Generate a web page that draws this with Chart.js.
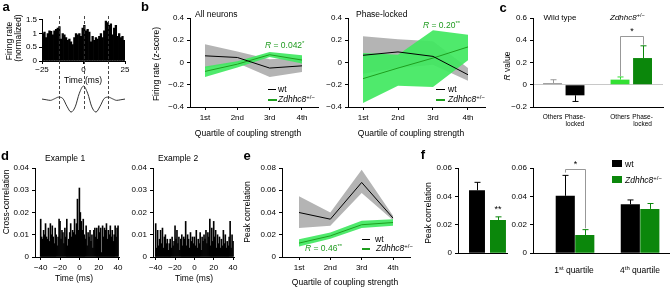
<!DOCTYPE html>
<html>
<head>
<meta charset="utf-8">
<script src="https://cdn.jsdelivr.net/npm/chart.js@4.4.0/dist/chart.umd.min.js"></script>
<style>
  html, body { margin: 0; padding: 0; background: #fff; overflow: hidden; }
  #fig { position: relative; width: 670px; height: 287px; font-family: "Liberation Sans", Arial, sans-serif; color: #000; }
  #fig canvas { position: absolute; }
  .t { position: absolute; white-space: nowrap; font-size: 8.5px; line-height: 1; }
  .c { transform: translate(-50%, -50%); }
  .l { transform: translate(0, -50%); }
  .v { transform: translate(-50%, -50%) rotate(-90deg); }
  .lt { font-weight: bold; font-size: 13px; }
  .sm { font-size: 8px; }
  .g { color: #1e9a1e; }
  sup { font-size: 0.7em; vertical-align: 0; position: relative; top: -0.45em; }
  .sw { position: absolute; }
</style>
</head>
<body>
<div id="fig"></div>
<script>
// ---- data ----
// a: spike histogram around the theta cycle (1 ms bins, -25..25 ms)
const firingRate = [
  1.0, 1.05, 0.85, 1.0, 1.1, 1.08, 0.95, 1.1, 1.15, 1.2,
  1.25, 0.8, 1.0, 0.95, 0.85, 0.75, 0.8, 0.7, 0.6, 0.85,
  1.0, 0.95, 1.0, 0.9, 1.2, 1.3, 1.1, 1.15, 1.05, 0.7,
  0.9, 0.75, 0.85, 0.8, 0.9, 1.0, 0.85, 1.1, 1.45, 1.4,
  1.3, 1.35, 0.95, 1.2, 1.3, 0.9, 1.0, 0.85, 0.9, 0.75
];
const firingBinStart = -25;
const waveTime = [-25, -22.5, -20, -17.5, -15, -12.5, -10, -7.5, -5, -2.5, 0, 2.5, 5, 7.5, 10, 12.5, 15, 17.5, 20, 22.5, 25];
const waveValue = [0, -0.05, -0.1, 0.02, 0.15, 0.05, -0.55, -1.0, -0.6, 0.45, 1.0, 0.45, -0.6, -1.0, -0.55, 0.05, 0.15, 0.02, -0.1, -0.05, 0];
const cycleMarks = [-15, 0, 15];
const timeTicksA = [-25, 0, 25];
const rateTicks = [0, 0.5, 1, 1.5];

// b: firing rate by quartile of coupling strength
const quartiles = ['1st', '2nd', '3rd', '4th'];
const allWt = [0.06, 0.045, -0.05, -0.03];
const allWtHi = [0.165, 0.1, 0.03, 0.045];
const allWtLo = [-0.05, -0.005, -0.13, -0.085];
const allMut = [-0.08, -0.015, 0.07, 0.022];
const allMutHi = [-0.035, 0.012, 0.095, 0.065];
const allMutLo = [-0.13, -0.045, 0.05, -0.01];
const lockWt = [0.065, 0.095, 0.055, -0.11];
const lockWtHi = [0.235, 0.21, 0.19, -0.05];
const lockWtLo = [-0.1, -0.05, -0.02, -0.165];
const lockMut = [-0.145, -0.05, 0.04, 0.14];
const lockMutHi = [0.085, 0.07, 0.29, 0.25];
const lockMutLo = [-0.365, -0.21, -0.22, 0.02];
const zTicks = [-0.4, -0.2, 0, 0.2, 0.4];

// c: R values
const rGroups = ['Wild type', 'Zdhhc8'];
const rValues = [0.015, -0.095, 0.046, 0.24];
const rErrors = [0.03, 0.055, 0.024, 0.11];
const rTickLabels = ['Others', ['Phase-', 'locked'], 'Others', ['Phase-', 'locked']];
const rTicks = [-0.2, 0, 0.2, 0.4, 0.6];

// d: cross-correlation examples (1 ms bins, -40..40 ms)
const crossLagStart = -40;
const crossEx1 = [
  0.017, 0.009, 0.008, 0.012, 0.010, 0.015, 0.009, 0.008, 0.013, 0.007,
  0.015, 0.010, 0.014, 0.009, 0.006, 0.013, 0.010, 0.005, 0.009, 0.017,
  0.016, 0.008, 0.012, 0.011, 0.006, 0.013, 0.009, 0.017, 0.005, 0.008,
  0.011, 0.015, 0.009, 0.012, 0.011, 0.017, 0.010, 0.015, 0.026, 0.012,
  0.031,
  0.020, 0.016, 0.012, 0.017, 0.010, 0.008, 0.014, 0.005, 0.011, 0.009,
  0.012, 0.007, 0.010, 0.004, 0.012, 0.013, 0.009, 0.013, 0.008, 0.014,
  0.011, 0.013, 0.002, 0.014, 0.009, 0.013, 0.012, 0.015, 0.008, 0.012,
  0.010, 0.014, 0.009, 0.012, 0.007, 0.010, 0.014, 0.009, 0.013, 0.014
];
const crossEx2 = [
  0.015, 0.004, 0.012, 0.005, 0.008, 0.012, 0.006, 0.013, 0.004, 0.009,
  0.010, 0.006, 0.008, 0.003, 0.006, 0.008, 0.004, 0.009, 0.005, 0.007,
  0.014, 0.008, 0.012, 0.006, 0.009, 0.003, 0.008, 0.010, 0.005, 0.009,
  0.008, 0.016, 0.005, 0.010, 0.008, 0.004, 0.011, 0.007, 0.009, 0.006,
  0.009,
  0.005, 0.012, 0.004, 0.008, 0.006, 0.011, 0.003, 0.009, 0.007, 0.010,
  0.008, 0.012, 0.006, 0.011, 0.009, 0.017, 0.005, 0.013, 0.007, 0.016,
  0.009, 0.012, 0.004, 0.010, 0.006, 0.009, 0.004, 0.008, 0.005, 0.012,
  0.006, 0.010, 0.004, 0.007, 0.005, 0.009, 0.016, 0.004, 0.010, 0.007
];
const lagTicks = [-40, -20, 0, 20, 40];
const crossTicks = [0, 0.01, 0.02, 0.03, 0.04];

// e: peak correlation by quartile
const peakWt = [0.040, 0.034, 0.067, 0.035];
const peakWtHi = [0.0545, 0.040, 0.0785, 0.037];
const peakWtLo = [0.026, 0.028, 0.0575, 0.033];
const peakMut = [0.0125, 0.019, 0.029, 0.031];
const peakMutHi = [0.016, 0.022, 0.0325, 0.034];
const peakMutLo = [0.0095, 0.0165, 0.026, 0.028];
const peakTicksE = [0, 0.02, 0.04, 0.06, 0.08];

// f: peak correlation bars
const meanPeak = [0.0443, 0.0234];
const meanPeakErr = [0.0056, 0.0022];
const quartileGroups = ['1st quartile', '4th quartile'];
const qPeakWt = [0.0404, 0.0344];
const qPeakWtErr = [0.0144, 0.0031];
const qPeakMut = [0.0128, 0.0312];
const qPeakMutErr = [0.0038, 0.0038];
const peakTicksF = [0, 0.02, 0.04, 0.06];

// ---- style ----
const GREEN_LINE = '#1e9e1e';
const GREEN_BAND = 'rgba(64,232,96,0.92)';
const GRAY_BAND = '#b4b4b4';
const BAR_GREEN = '#0b870b';
const rColors = ['#9a9a9a', '#000000', '#33e033', BAR_GREEN];

Chart.defaults.font.family = '"Liberation Sans", Arial, sans-serif';
Chart.defaults.font.size = 8;
Chart.defaults.color = '#000';
Chart.defaults.plugins.legend.display = false;
Chart.defaults.plugins.tooltip.enabled = false;

const fig = document.getElementById('fig');
const fmt = (v) => String(v).replace('-', '\u2212');
const pts = (xs, ys) => ys.map((y, i) => ({ x: xs[i], y }));
const bins = (start, vals, shift) => vals.map((v, i) => ({ x: start + i + shift, y: v }));
const qPos = quartiles.map((q, i) => i + 1);

function axis(min, max, ticks, o = {}) {
  return {
    type: 'linear', min, max, offset: false,
    afterBuildTicks: (s) => { s.ticks = ticks.map((v) => ({ value: v })); },
    grid: {
      display: true, drawOnChartArea: !!o.gridColor, drawTicks: o.drawTicks !== false,
      tickLength: 3, tickColor: '#000', color: o.gridColor || '#000', offset: false,
    },
    border: { display: true, color: '#000', width: 1 },
    ticks: {
      display: o.labels !== false, padding: o.pad ?? 2, maxRotation: 0, autoSkip: false,
      color: '#000', font: { size: o.size || 8 }, callback: o.fmt || ((v) => fmt(v)),
    },
  };
}

function mk(area, m, config) {
  const [x0, y0, x1, y1] = area;
  const cv = document.createElement('canvas');
  const w = x1 - x0 + m[0] + m[2], h = y1 - y0 + m[1] + m[3];
  cv.width = w; cv.height = h;
  cv.style.left = (x0 - m[0]) + 'px'; cv.style.top = (y0 - m[1]) + 'px';
  cv.style.width = w + 'px'; cv.style.height = h + 'px';
  fig.appendChild(cv);
  const o = config.options;
  o.responsive = false; o.animation = false; o.devicePixelRatio = 1;
  const hidden = o.scales.x.display === false;
  o.layout = { padding: hidden ? { left: m[0], top: m[1], right: m[2], bottom: m[3] } : { left: 0, top: m[1], right: m[2], bottom: 0 } };
  if (!hidden) {
    o.scales.y.afterFit = (s) => { s.width = m[0]; };
    o.scales.x.afterFit = (s) => { s.height = m[3]; };
  }
  return new Chart(cv, config);
}

const errorBars = {
  id: 'errorBars',
  afterDatasetsDraw(chart) {
    const { ctx } = chart, ys = chart.scales.y;
    chart.data.datasets.forEach((ds, i) => {
      if (!ds.errors) return;
      chart.getDatasetMeta(i).data.forEach((bar, j) => {
        const v = ds.data[j].y;
        const end = ys.getPixelForValue(v + Math.sign(v) * ds.errors[j]);
        const x = Math.round(bar.x) + 0.5;
        ctx.save();
        ctx.strokeStyle = Array.isArray(ds.backgroundColor) ? ds.backgroundColor[j] : ds.backgroundColor;
        ctx.lineWidth = 1;
        ctx.beginPath();
        ctx.moveTo(x, bar.y); ctx.lineTo(x, end);
        ctx.moveTo(x - 3, end); ctx.lineTo(x + 3, end);
        ctx.stroke();
        ctx.restore();
      });
    });
  },
};

const notes = {
  id: 'notes',
  afterDatasetsDraw(chart, args, opts) {
    const { ctx } = chart, xs = chart.scales.x, ys = chart.scales.y;
    ctx.save();
    ctx.font = '9px "Liberation Sans", Arial, sans-serif';
    ctx.textAlign = 'center';
    ctx.textBaseline = 'middle';
    (opts.brackets || []).forEach((b) => {
      const X1 = Math.round(xs.getPixelForValue(b.x1)) + 0.5, X2 = Math.round(xs.getPixelForValue(b.x2)) + 0.5;
      const Y = Math.round(ys.getPixelForValue(b.y)) + 0.5;
      ctx.strokeStyle = '#8c8c8c'; ctx.lineWidth = 0.9;
      ctx.beginPath();
      ctx.moveTo(X1, ys.getPixelForValue(b.y1)); ctx.lineTo(X1, Y); ctx.lineTo(X2, Y); ctx.lineTo(X2, ys.getPixelForValue(b.y2));
      ctx.stroke();
      ctx.fillStyle = '#000';
      ctx.fillText(b.text, (X1 + X2) / 2, Y - 5);
    });
    (opts.labels || []).forEach((l) => {
      ctx.fillStyle = '#000';
      ctx.fillText(l.text, xs.getPixelForValue(l.x), ys.getPixelForValue(l.y));
    });
    ctx.restore();
  },
};

const cycles = {
  id: 'cycles',
  afterDatasetsDraw(chart, args, opts) {
    const { ctx, chartArea } = chart, xs = chart.scales.x;
    ctx.save();
    ctx.strokeStyle = '#333'; ctx.lineWidth = 0.9; ctx.setLineDash([3, 2]);
    opts.at.forEach((t) => {
      const x = Math.round(xs.getPixelForValue(t)) + 0.5;
      ctx.beginPath(); ctx.moveTo(x, chartArea.top); ctx.lineTo(x, chartArea.bottom - 3); ctx.stroke();
    });
    ctx.restore();
  },
};

function line(data, color, width) {
  return { data, borderColor: color, borderWidth: width, pointRadius: 0, fill: false, tension: 0 };
}
function band(hi, lo, color) {
  return [
    { data: hi, borderWidth: 0, pointRadius: 0, backgroundColor: color, fill: '+1', tension: 0 },
    { data: lo, borderWidth: 0, pointRadius: 0, fill: false, tension: 0 },
  ];
}
const qFmt = (v) => quartiles[Math.round(v) - 1];

// ---- a ----
mk([42, 19, 125, 61], [34, 6, 12, 16], {
  type: 'bar',
  data: { datasets: [{ data: bins(firingBinStart, firingRate, 0.5), backgroundColor: '#000', borderWidth: 0, barPercentage: 1, categoryPercentage: 1 }] },
  options: { scales: { x: axis(-25, 25, timeTicksA, { pad: 1 }), y: axis(0, 1.5, rateTicks) } },
});
mk([42, 16, 125, 114], [0, 0, 0, 0], {
  type: 'line',
  data: { datasets: [{ data: pts(waveTime, waveValue), borderColor: '#333', borderWidth: 1, pointRadius: 0, cubicInterpolationMode: 'monotone' }] },
  options: {
    scales: { x: { type: 'linear', display: false, min: -25, max: 25 }, y: { type: 'linear', display: false, min: -1.15, max: 6.4 } },
    plugins: { cycles: { at: cycleMarks } },
  },
  plugins: [cycles],
});

// ---- b ----
function quartileChart(area, m, xr, wt, wtHi, wtLo, mut, mutHi, mutLo, yr, yTicks) {
  return mk(area, m, {
    type: 'line',
    data: {
      datasets: [
        line(pts(qPos, wt), '#000', 1),
        line(pts(qPos, mut), GREEN_LINE, 1),
        ...band(pts(qPos, mutHi), pts(qPos, mutLo), GREEN_BAND),
        ...band(pts(qPos, wtHi), pts(qPos, wtLo), GRAY_BAND),
      ],
    },
    options: {
      scales: {
        x: axis(xr[0], xr[1], qPos, { fmt: qFmt, pad: 3 }),
        y: axis(yr[0], yr[1], yTicks, { pad: 3 }),
      },
    },
  });
}
quartileChart([190, 18, 318, 107], [36, 8, 10, 18], [0.536, 4.495], allWt, allWtHi, allWtLo, allMut, allMutHi, allMutLo, [-0.4, 0.4], zTicks);
quartileChart([348, 18, 485, 107], [30, 8, 10, 18], [0.571, 4.486], lockWt, lockWtHi, lockWtLo, lockMut, lockMutHi, lockMutLo, [-0.4, 0.4], zTicks);

// ---- c ----
const rPos = rValues.map((v, i) => Math.floor(i / 2) * 3 + (i % 2) + 1);
mk([533, 18, 663, 107], [30, 8, 6, 24], {
  type: 'bar',
  data: { datasets: [{ data: pts(rPos, rValues), errors: rErrors, backgroundColor: rColors, borderWidth: 0, barPercentage: 0.84, categoryPercentage: 1 }] },
  options: {
    scales: {
      x: axis(0.133, 5.91, rPos, { drawTicks: false, pad: 6, size: 6.5, fmt: (v, i) => rTickLabels[i] }),
      y: axis(-0.2, 0.6, rTicks, { pad: 3, gridColor: (c) => (c.tick && c.tick.value === 0 ? '#c8c8c8' : 'rgba(0,0,0,0)') }),
    },
    plugins: { notes: { brackets: [{ x1: rPos[2], x2: rPos[3], y: 0.44, y1: 0.075, y2: 0.36, text: '*' }] } },
  },
  plugins: [errorBars, notes],
});

// ---- d ----
function crossChart(area, m, xr, vals) {
  return mk(area, m, {
    type: 'bar',
    data: { datasets: [{ data: bins(crossLagStart, vals, 0), backgroundColor: '#000', borderWidth: 0, barPercentage: 1, categoryPercentage: 1 }] },
    options: { scales: { x: axis(xr[0], xr[1], lagTicks, { pad: 3 }), y: axis(0, 0.04, crossTicks, { pad: 3 }) } },
  });
}
crossChart([35, 168, 119, 257], [32, 8, 10, 18], [-45.9, 40.97], crossEx1);
crossChart([153, 168, 234, 257], [32, 8, 10, 18], [-42.8, 41], crossEx2);

// ---- e ----
quartileChart([282, 168, 410, 257], [32, 8, 10, 18], [0.457, 4.542], peakWt, peakWtHi, peakWtLo, peakMut, peakMutHi, peakMutLo, [0, 0.08], peakTicksE);

// ---- f ----
const twoPos = [1, 2];
mk([458, 168, 507, 257], [32, 8, 4, 4], {
  type: 'bar',
  data: { datasets: [{ data: pts(twoPos, meanPeak), errors: meanPeakErr, backgroundColor: ['#000', BAR_GREEN], borderWidth: 0, barPercentage: 0.76, categoryPercentage: 1 }] },
  options: {
    scales: { x: axis(0.095, 2.43, [], { labels: false, drawTicks: false }), y: axis(0, 0.06, peakTicksF, { pad: 3 }) },
    plugins: { notes: { labels: [{ x: 2, y: 0.0305, text: '**' }] } },
  },
  plugins: [errorBars, notes],
});
mk([533, 168, 670, 257], [32, 12, 2, 4], {
  type: 'bar',
  data: {
    datasets: [
      { data: pts(twoPos, qPeakWt), errors: qPeakWtErr, backgroundColor: '#000', borderWidth: 0, barPercentage: 0.98, categoryPercentage: 0.6 },
      { data: pts(twoPos, qPeakMut), errors: qPeakMutErr, backgroundColor: BAR_GREEN, borderWidth: 0, barPercentage: 0.98, categoryPercentage: 0.6 },
    ],
  },
  options: {
    scales: { x: axis(0.354, 2.46, [], { labels: false, drawTicks: false }), y: axis(0, 0.06, peakTicksF, { pad: 3 }) },
    plugins: { notes: { brackets: [{ x1: 0.85, x2: 1.15, y: 0.0595, y1: 0.0568, y2: 0.0175, text: '*' }] } },
  },
  plugins: [errorBars, notes],
});

// ---- text ----
function txt(html, x, y, cls) {
  const d = document.createElement('div');
  d.className = 't ' + cls;
  d.innerHTML = html;
  d.style.left = x + 'px';
  d.style.top = y + 'px';
  fig.appendChild(d);
}
function swatch(x, y, w, h, color) {
  const d = document.createElement('div');
  d.className = 'sw';
  Object.assign(d.style, { left: x + 'px', top: y + 'px', width: w + 'px', height: h + 'px', background: color });
  fig.appendChild(d);
}
const zd = '<i>' + rGroups[1] + '</i><sup>+/\u2212</sup>';
const qLabel = (s) => s.replace(/^(\d)(st|th)/, '$1<sup>$2</sup>');

['a', 'b', 'c', 'd', 'e', 'f'].forEach((k, i) => {
  const p = [[6, 6], [145, 6], [503, 7], [5, 155], [247, 155], [423, 154]][i];
  txt(k, p[0], p[1], 'c lt');
});

// a
txt('Firing rate', 9, 41, 'v');
txt('(normalized)', 18, 38, 'v');
txt('Time (ms)', 83, 80, 'c');
// b
txt('Firing rate (z-score)', 156, 64, 'v');
txt('All neurons', 195, 14, 'l');
txt('Phase-locked', 356, 14, 'l');
txt('<i>R</i> = 0.042<sup>*</sup>', 265, 45, 'l g');
txt('<i>R</i> = 0.20<sup>**</sup>', 423, 25, 'l g');
txt('Quartile of coupling strength', 248, 133, 'c');
txt('Quartile of coupling strength', 411, 133, 'c');
swatch(268, 88.5, 8, 1.5, '#000'); swatch(268, 98.5, 9, 2, GREEN_LINE);
txt('wt', 278, 89, 'l'); txt(zd, 278, 99, 'l');
swatch(436, 88.5, 9, 1.5, '#000'); swatch(436, 98.5, 9, 2, GREEN_LINE);
txt('wt', 448, 89, 'l'); txt(zd, 448, 99, 'l');
// c
txt('<i>R</i> value', 507, 66, 'v');
txt(rGroups[0], 560, 18, 'c sm');
txt(zd, 610, 18, 'l sm');
// d
txt('Cross-correlation', 6, 202, 'v');
txt('Example 1', 45, 158, 'l');
txt('Example 2', 158, 158, 'l');
txt('Time (ms)', 74, 278, 'c');
txt('Time (ms)', 194, 278, 'c');
// e
txt('Peak correlation', 247, 212, 'v');
txt('Quartile of coupling strength', 345, 281.5, 'c');
swatch(362, 238.5, 8, 1.5, '#000'); swatch(362, 247.5, 8, 2, GREEN_LINE);
txt('wt', 375, 239, 'l'); txt(zd, 376, 248, 'l');
txt('<i>R</i> = 0.46<sup>**</sup>', 305, 248, 'l g');
// f
txt('Peak correlation', 428, 213, 'v');
txt(qLabel(quartileGroups[0]), 574, 270, 'c');
txt(qLabel(quartileGroups[1]), 640, 270, 'c');
swatch(612, 160, 10, 7, '#000'); swatch(612, 176, 10, 7, BAR_GREEN);
txt('wt', 625, 163.5, 'l'); txt(zd, 625, 180, 'l');
</script>
</body>
</html>
